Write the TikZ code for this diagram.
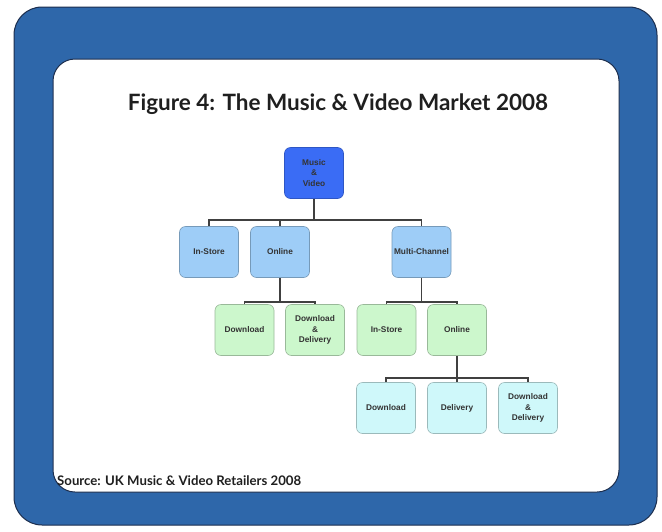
\documentclass[tikz,border=0pt]{standalone}
\usepackage{fontspec}
\setmainfont{Liberation Sans}
\newfontfamily\titlefont{Lato}
\definecolor{frameblue}{HTML}{2E67AA}
\definecolor{framedark}{HTML}{1C2E4E}
\definecolor{topblue}{HTML}{3A6CF5}
\definecolor{lvlone}{HTML}{9ECDF7}
\definecolor{lvltwo}{HTML}{CCF7CC}
\definecolor{lvlthree}{HTML}{CFF8FA}
\begin{document}
\begin{tikzpicture}[x=1pt,y=-1pt,
  box/.style={draw=black!30, line width=0.6pt, rounded corners=6pt, minimum width=59pt, minimum height=51pt,
    font=\fontsize{8.3}{10.2}\selectfont\bfseries, align=center, inner sep=0pt, text=black!80},
  topbox/.style={box, fill=topblue, draw=topblue!80!black},
  onebox/.style={box, fill=lvlone, draw=lvlone!75!black},
  twobox/.style={box, fill=lvltwo, draw=lvltwo!75!black},
  threebox/.style={box, fill=lvlthree, draw=lvlthree!75!black},
  link/.style={draw=black!75, line width=1.3pt}]
\useasboundingbox (0,0) rectangle (662,531);
\fill[white] (0,0) rectangle (662,531);
% frames
\filldraw[fill=frameblue, draw=framedark, line width=1pt, rounded corners=28pt] (14,7) rectangle (657,525);
\filldraw[fill=white, draw=framedark, line width=1pt, rounded corners=22pt] (53,59) rectangle (619,492);
% title and source
\node[font=\titlefont\bfseries\fontsize{22.5}{26}\selectfont, text=black!88] (title) at (338,104) {Figure 4: The Music \& Video Market 2008};
\node[font=\titlefont\bfseries\fontsize{13.2}{16}\selectfont, text=black!88, anchor=west, inner sep=0pt] (source) at (57,481) {Source: UK Music \& Video Retailers 2008};
% nodes
\node[topbox] (mv) at (314,173) {Music\\\&\\Video};
\node[onebox] (is1) at (209,252) {In-Store};
\node[onebox] (on1) at (280,252) {Online};
\node[onebox] (mc1) at (421.5,252) {Multi-Channel};
\node[twobox] (dl2) at (244.5,330) {Download};
\node[twobox] (dd2) at (315,330) {Download\\\&\\Delivery};
\node[twobox] (is2) at (386.5,330) {In-Store};
\node[twobox] (on2) at (457,330) {Online};
\node[threebox] (dl3) at (386,408) {Download};
\node[threebox] (de3) at (457,408) {Delivery};
\node[threebox] (dd3) at (528,408) {Download\\\&\\Delivery};
% bus coordinates
\coordinate (bA) at (314,220);
\coordinate (bB) at (280,302);
\coordinate (bC) at (421.5,302);
\coordinate (bD) at (457,378);
% connectors
\draw[link] (mv.south) -- (bA);
\draw[link] (is1.north) |- (bA) -| (mc1.north);
\draw[link] (on1.north) -- (on1.north |- bA);
\draw[link] (on1.south) -- (bB);
\draw[link] (dl2.north) |- (bB) -| (dd2.north);
\draw[link] (mc1.south) -- (bC);
\draw[link] (is2.north) |- (bC) -| (on2.north);
\draw[link] (on2.south) -- (bD);
\draw[link] (dl3.north) |- (bD) -| (dd3.north);
\draw[link] (de3.north) -- (bD);
\end{tikzpicture}
\end{document}
